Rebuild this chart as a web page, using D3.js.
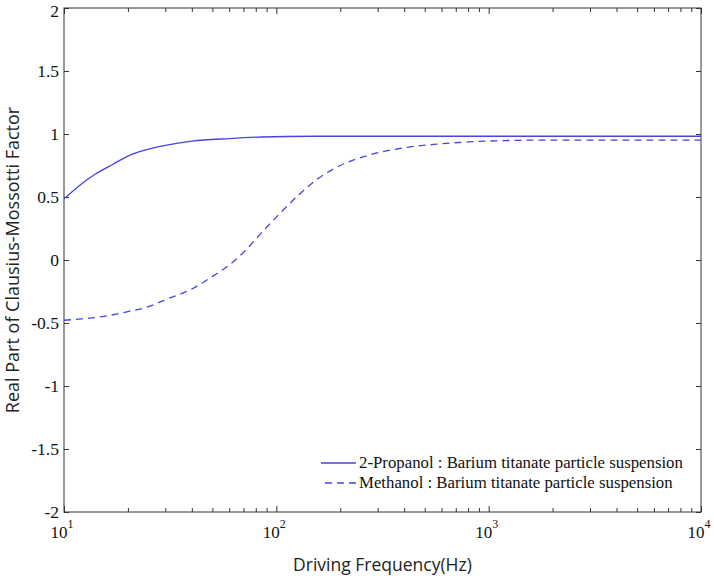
<!DOCTYPE html>
<html>
<head>
<meta charset="utf-8">
<script src="https://cdn.jsdelivr.net/npm/d3@7"></script>
<style>
  body { margin: 0; background: #fff; }
  svg { display: block; }
</style>
</head>
<body>
<svg></svg>
<script>
// 2-Propanol curve (solid)
const propanolFreq = [10, 12, 14, 17, 20, 25, 30, 40, 60, 85, 150, 1000, 10000];
const propanolValue = [0.485, 0.6, 0.68, 0.76, 0.825, 0.88, 0.91, 0.943, 0.964, 0.976, 0.982, 0.982, 0.982];

// Methanol curve (dashed)
const methanolFreq = [10, 12, 15, 20, 25, 30, 40, 50, 60, 70, 80, 90, 100, 130, 160, 200, 270, 380, 550, 800, 1100, 2000, 10000];
const methanolValue = [-0.478, -0.468, -0.45, -0.41, -0.37, -0.315, -0.23, -0.13, -0.04, 0.06, 0.165, 0.26, 0.34, 0.53, 0.655, 0.75, 0.83, 0.885, 0.917, 0.937, 0.946, 0.952, 0.952];

const yTicks = [-2, -1.5, -1, -0.5, 0, 0.5, 1, 1.5, 2];
const xTicks = [10, 100, 1000, 10000];
const legendLabels = [
  "2-Propanol : Barium titanate particle suspension",
  "Methanol : Barium titanate particle suspension"
];

const width = 714, height = 576;
const margin = {top: 8, right: 13, bottom: 64, left: 64};
const blue = "#4545e0";

const svg = d3.select("svg")
    .attr("width", width)
    .attr("height", height);

const x = d3.scaleLog()
    .domain([10, 10000])
    .range([margin.left, width - margin.right]);

const y = d3.scaleLinear()
    .domain([-2, 2])
    .range([height - margin.bottom, margin.top]);

const serif = "'Liberation Serif', 'Times New Roman', serif";
const sans = "'Open Sans', 'Noto Sans', sans-serif";

// minor ticks for the log axis
const minorTicks = [];
for (let d = 10; d < 10000; d *= 10) {
  for (let k = 2; k <= 9; k++) minorTicks.push(d * k);
}

const xAxisB = d3.axisBottom(x).tickValues(xTicks).tickSizeInner(-6).tickSizeOuter(0).tickFormat("");
const xAxisT = d3.axisTop(x).tickValues(xTicks).tickSizeInner(-6).tickSizeOuter(0).tickFormat("");
const xMinorB = d3.axisBottom(x).tickValues(minorTicks).tickSizeInner(-4).tickSizeOuter(0).tickFormat("");
const xMinorT = d3.axisTop(x).tickValues(minorTicks).tickSizeInner(-4).tickSizeOuter(0).tickFormat("");

const yAxisL = d3.axisLeft(y).tickValues(yTicks).tickSizeInner(-5).tickSizeOuter(0).tickPadding(5)
    .tickFormat(d => String(d));
const yAxisR = d3.axisRight(y).tickValues(yTicks).tickSizeInner(-5).tickSizeOuter(0).tickFormat("");

const style = g => {
  g.select(".domain").remove();
  g.selectAll(".tick line").attr("stroke", "#333");
};

svg.append("g").attr("transform", `translate(0,${y(-2)})`).call(xAxisB).call(style);
svg.append("g").attr("transform", `translate(0,${y(-2)})`).call(xMinorB).call(style);
svg.append("g").attr("transform", `translate(0,${y(2)})`).call(xAxisT).call(style);
svg.append("g").attr("transform", `translate(0,${y(2)})`).call(xMinorT).call(style);
svg.append("g").attr("transform", `translate(${x(10)},0)`).call(yAxisL).call(style)
    .call(g => g.selectAll(".tick text")
        .attr("font-family", serif)
        .attr("font-size", 17.5)
        .attr("fill", "#111")
        .attr("y", d => d === 2 ? 3 : 0));
svg.append("g").attr("transform", `translate(${x(10000)},0)`).call(yAxisR).call(style);

// x tick labels: 10 with a superscript exponent
const xl = svg.append("g").attr("font-family", serif).attr("fill", "#111");
xTicks.forEach(t => {
  const txt = xl.append("text")
      .attr("x", x(t) - 2)
      .attr("y", y(-2) + 26)
      .attr("text-anchor", "middle")
      .attr("font-size", 17);
  txt.append("tspan").text("10");
  txt.append("tspan").attr("dy", -10).attr("font-size", 12).text(Math.round(Math.log10(t)));
});

// box
svg.append("rect")
    .attr("x", x(10))
    .attr("y", y(2))
    .attr("width", x(10000) - x(10))
    .attr("height", y(-2) - y(2))
    .attr("fill", "none")
    .attr("stroke", "#333")
    .attr("stroke-width", 1);

const line = d3.line()
    .curve(d3.curveMonotoneX)
    .x(d => x(d[0]))
    .y(d => y(d[1]));

svg.append("path")
    .datum(d3.zip(propanolFreq, propanolValue))
    .attr("fill", "none")
    .attr("stroke", blue)
    .attr("stroke-width", 1.3)
    .attr("d", line);

svg.append("path")
    .datum(d3.zip(methanolFreq, methanolValue))
    .attr("fill", "none")
    .attr("stroke", blue)
    .attr("stroke-width", 1.3)
    .attr("stroke-dasharray", "7,5")
    .attr("d", line);

// legend, no box
const legend = svg.append("g").attr("font-family", serif).attr("font-size", 16.8).attr("fill", "#111");
const legendRows = [
  {label: legendLabels[0], dash: null, x0: 321, y: 463},
  {label: legendLabels[1], dash: "7,5", x0: 325, y: 483}
];
legendRows.forEach(r => {
  legend.append("line")
      .attr("x1", r.x0).attr("x2", 356)
      .attr("y1", r.y).attr("y2", r.y)
      .attr("stroke", blue)
      .attr("stroke-width", 1.3)
      .attr("stroke-dasharray", r.dash);
  legend.append("text")
      .attr("x", 359)
      .attr("y", r.y + 5)
      .text(r.label);
});

// axis titles
svg.append("text")
    .attr("x", (x(10) + x(10000)) / 2)
    .attr("y", 571)
    .attr("text-anchor", "middle")
    .attr("font-family", sans)
    .attr("font-size", 17.5)
    .attr("fill", "#222")
    .text("Driving Frequency(Hz)");

svg.append("text")
    .attr("transform", `translate(19,${(y(2) + y(-2)) / 2}) rotate(-90)`)
    .attr("text-anchor", "middle")
    .attr("font-family", sans)
    .attr("font-size", 18)
    .attr("fill", "#222")
    .text("Real Part of Clausius-Mossotti Factor");
</script>
</body>
</html>
